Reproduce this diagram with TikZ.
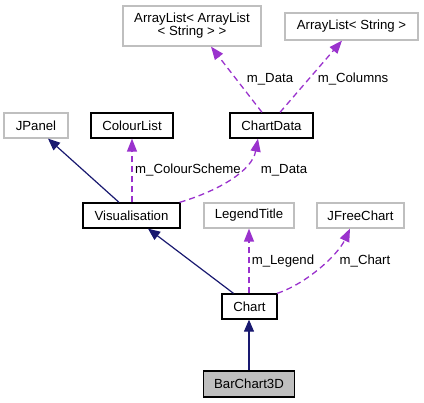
\documentclass[tikz,border=0pt]{standalone}
\usepackage{fontspec}
\setmainfont{Liberation Sans}
\usetikzlibrary{arrows.meta}
\definecolor{navy}{RGB}{25,25,112}
\definecolor{orchid}{RGB}{154,50,205}
\definecolor{extgray}{RGB}{191,191,191}
\begin{document}
\begin{tikzpicture}[x=1pt,y=-1pt,
  every node/.style={font=\fontsize{13.2}{14}\selectfont, inner sep=0pt},
  cls/.style={draw=black, line width=1.3pt, rectangle, fill=white},
  ext/.style={draw=extgray, line width=1.2pt, rectangle, fill=white},
  inh/.style={draw=navy, line width=1.2pt, -{Triangle[length=12pt,width=10pt]}},
  use/.style={draw=orchid, line width=1.3pt, dash pattern=on 6pt off 4pt, -{Triangle[length=13pt,width=10pt]}},
  lbl/.style={text=black}]
\useasboundingbox (0,0) rectangle (424,403);
\node[ext, minimum width=138pt, minimum height=40pt, align=center] (aal) at (192,26) {ArrayList< ArrayList\\[-1pt]< String > >};
\node[ext, minimum width=133pt, minimum height=27pt] (as) at (351.5,26.5) {ArrayList< String >};
\node[cls, minimum width=83pt, minimum height=25pt] (cd) at (271.5,125.5) {ChartData};
\node[cls, minimum width=82pt, minimum height=25pt] (cl) at (132,125.5) {ColourList};
\node[ext, minimum width=64pt, minimum height=25pt] (jp) at (36,125.5) {JPanel};
\node[cls, minimum width=97pt, minimum height=25pt] (vis) at (131.5,215.5) {Visualisation};
\node[ext, minimum width=90pt, minimum height=25pt] (lt) at (249,215.5) {LegendTitle};
\node[ext, minimum width=87pt, minimum height=25pt] (jfc) at (360.5,215.5) {JFreeChart};
\node[cls, minimum width=55pt, minimum height=25pt] (ch) at (249.5,306.5) {Chart};
\node[cls, fill=extgray, minimum width=91pt, minimum height=26pt] (bc) at (249,384) {BarChart3D};

\draw[inh] (bc.north) -- (bc.north |- ch.south);
\draw[inh] ([xshift=-16pt]ch.north) -- ([xshift=16.5pt]vis.south);
\draw[inh] ([xshift=-12.5pt]vis.north) -- ([xshift=12pt]jp.south);

\draw[use] (cl.south |- vis.north) -- (cl.south);
\node[lbl] (l1) at (188,170) {m\_ColourScheme};
\draw[use] ([xshift=-1pt]vis.north east) .. controls +(40,-12) and +(-6,32) .. ([xshift=-13.5pt]cd.south);
\node[lbl] (l2) at (284,170) {m\_Data};
\draw[use] ([xshift=-9.5pt]cd.north) -- ([xshift=19pt]aal.south);
\node[lbl] (l3) at (270,79) {m\_Data};
\draw[use] ([xshift=8.5pt]cd.north) -- ([xshift=-9.5pt]as.south);
\node[lbl] (l4) at (353,79) {m\_Columns};
\draw[use] (lt.south |- ch.north) -- (lt.south);
\node[lbl] (l5) at (283,261) {m\_Legend};
\draw[use] ([xshift=-0.5pt]ch.north east) .. controls +(30,-10) and +(-12,26) .. ([xshift=-10.5pt]jfc.south);
\node[lbl] (l6) at (365,261) {m\_Chart};
\end{tikzpicture}
\end{document}
